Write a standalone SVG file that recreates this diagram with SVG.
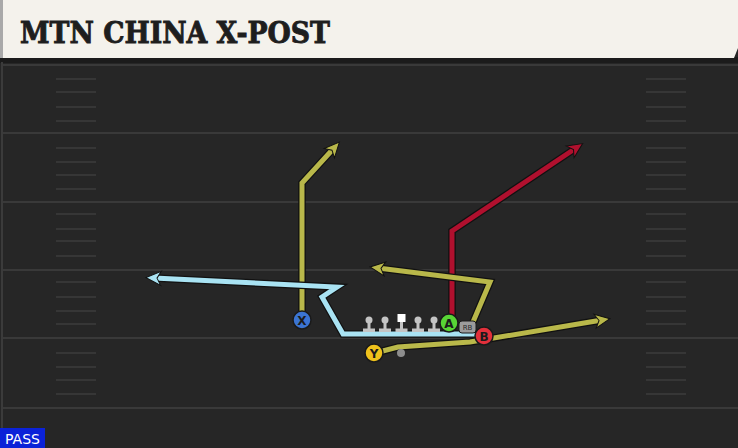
<svg xmlns="http://www.w3.org/2000/svg" width="738" height="448" viewBox="0 0 738 448">
<defs>
<style>
.yard{stroke:#393939;stroke-width:2}
.hash{stroke:#363636;stroke-width:2}
.shadow{fill:none;stroke:#111;stroke-width:7.5;stroke-linejoin:miter;stroke-linecap:butt}
.route{fill:none;stroke-width:5;stroke-linejoin:miter;stroke-linecap:butt}
.yel{stroke:#b9b84a}
.cyan{stroke:#a9e3f3}
.red{stroke:#b0102e}
.lbl{font-family:"DejaVu Sans","Liberation Sans",sans-serif;font-weight:bold;font-size:12px;fill:#1b1b1b;text-anchor:middle}
.ol{fill:#c4c4c4}
.pc{stroke:#1a1a1a;stroke-width:1.5}
</style>
<marker id="ay" viewBox="0 0 10 10" refX="5" refY="5" markerWidth="20" markerHeight="20" orient="auto" markerUnits="userSpaceOnUse"><path d="M1.5,1.5 L9,5 L1.5,8.5 L3.5,5 Z" fill="#b9b84a" stroke="#111" stroke-width="0.5" stroke-linejoin="miter"/></marker>
<marker id="ac" viewBox="0 0 10 10" refX="5" refY="5" markerWidth="20" markerHeight="20" orient="auto" markerUnits="userSpaceOnUse"><path d="M1.5,1.5 L9,5 L1.5,8.5 L3.5,5 Z" fill="#a9e3f3" stroke="#111" stroke-width="0.5" stroke-linejoin="miter"/></marker>
<marker id="ar" viewBox="0 0 10 10" refX="5" refY="5" markerWidth="20" markerHeight="20" orient="auto" markerUnits="userSpaceOnUse"><path d="M1.5,1.5 L9,5 L1.5,8.5 L3.5,5 Z" fill="#b0102e" stroke="#111" stroke-width="0.5" stroke-linejoin="miter"/></marker>
</defs>
<rect x="0" y="0" width="738" height="448" fill="#262626"/>
<rect x="0" y="57" width="738" height="6" fill="#1b1b1b"/>
<line x1="2" y1="62" x2="2" y2="448" stroke="#3b3b3b" stroke-width="2"/>
<g id="header">
<path d="M0,0 H738 V48 L734,58 H0 Z" fill="#f4f2ec"/>
<rect x="0" y="0" width="3" height="58" fill="#a9a9a9"/>
<text x="20" y="43" font-family="'DejaVu Serif','Liberation Serif',serif" font-weight="bold" font-size="29" fill="#1e1e1e" stroke="#1e1e1e" stroke-width="0.9" textLength="310" lengthAdjust="spacingAndGlyphs">MTN CHINA X-POST</text>
</g>
<g id="field">
<line class="yard" x1="3" y1="65" x2="738" y2="65"/>
<line class="yard" x1="3" y1="133" x2="738" y2="133"/>
<line class="yard" x1="3" y1="202" x2="738" y2="202"/>
<line class="yard" x1="3" y1="270" x2="738" y2="270"/>
<line class="yard" x1="3" y1="338" x2="738" y2="338"/>
<line class="yard" x1="3" y1="408" x2="738" y2="408"/>
<g id="hashes">
<path class="hash" d="M56,79H96M56,92H96M56,107H96M56,121H96M56,148H96M56,162H96M56,175H96M56,189H96M56,214H96M56,229H96M56,241H96M56,256H96M56,282H96M56,297H96M56,311H96M56,324H96M56,353H96M56,367H96M56,380H96M56,394H96"/>
<path class="hash" d="M646,79H686M646,92H686M646,107H686M646,121H686M646,148H686M646,162H686M646,175H686M646,189H686M646,214H686M646,229H686M646,241H686M646,256H686M646,282H686M646,297H686M646,311H686M646,324H686M646,353H686M646,367H686M646,380H686M646,394H686"/>
</g>
</g>
<g id="connectors">
<path class="shadow" d="M302,320 V183 L334,148"/>
<path class="route yel" d="M302,320 V183 L334,148" marker-end="url(#ay)"/>
<path class="shadow" d="M478,334 H343 L322,297 L337,287 L154,278"/>
<path class="route cyan" d="M478,334 H343 L322,297 L337,287 L154,278" marker-end="url(#ac)"/>
<path class="shadow" d="M452,323 V231 L576,148"/>
<path class="route red" d="M452,323 V231 L576,148" marker-end="url(#ar)"/>
<path class="shadow" d="M473,322 L490,282 L378,268"/>
<path class="route yel" d="M473,322 L490,282 L378,268" marker-end="url(#ay)"/>
<path class="shadow" d="M375,353 L398,347 L470,342 L602,320"/>
<path class="route yel" d="M375,353 L398,347 L470,342 L602,320" marker-end="url(#ay)"/>
</g>
<g id="oline">
<g id="lt"><circle class="ol" cx="369" cy="320" r="3.5"/><rect class="ol" x="367.5" y="320" width="3" height="10"/><rect class="ol" x="363" y="328.5" width="12" height="3.5"/></g>
<g id="lg"><circle class="ol" cx="385" cy="320" r="3.5"/><rect class="ol" x="383.5" y="320" width="3" height="10"/><rect class="ol" x="379" y="328.5" width="12" height="3.5"/></g>
<g id="c"><rect x="397.5" y="314" width="8" height="8" fill="#ffffff"/><rect class="ol" x="400" y="322" width="3" height="8"/><rect class="ol" x="395.5" y="328.5" width="12" height="3.5"/></g>
<g id="rg"><circle class="ol" cx="418" cy="320" r="3.5"/><rect class="ol" x="416.5" y="320" width="3" height="10"/><rect class="ol" x="412" y="328.5" width="12" height="3.5"/></g>
<g id="rt"><circle class="ol" cx="434" cy="320" r="3.5"/><rect class="ol" x="432.5" y="320" width="3" height="10"/><rect class="ol" x="428" y="328.5" width="12" height="3.5"/></g>
</g>
<g id="qb"><circle cx="401" cy="353" r="4" fill="#8d8d8d"/></g>
<g id="rb"><rect x="459" y="321" width="17" height="12" rx="3" fill="#9c9c9c" stroke="#1a1a1a" stroke-width="1"/><text x="467.5" y="330" font-family="'DejaVu Sans','Liberation Sans',sans-serif" font-size="7" fill="#2a2a2a" text-anchor="middle">RB</text></g>
<g id="X"><circle class="pc" cx="302" cy="320" r="9" fill="#3b74d2"/><text class="lbl" x="302" y="324.5">X</text></g>
<g id="A"><circle class="pc" cx="449" cy="323" r="9" fill="#58d435"/><text class="lbl" x="449" y="327.5">A</text></g>
<g id="B"><circle class="pc" cx="484" cy="336" r="9" fill="#e2303b"/><text class="lbl" x="484" y="340.5">B</text></g>
<g id="Y"><circle class="pc" cx="374" cy="353" r="9" fill="#efc21c"/><text class="lbl" x="374" y="357.5">Y</text></g>
<g id="pass"><rect x="0" y="428" width="45" height="20" fill="#0b22d8"/><text x="22.5" y="444" font-family="'DejaVu Sans','Liberation Sans',sans-serif" font-size="14" fill="#ffffff" text-anchor="middle">PASS</text></g>
</svg>
